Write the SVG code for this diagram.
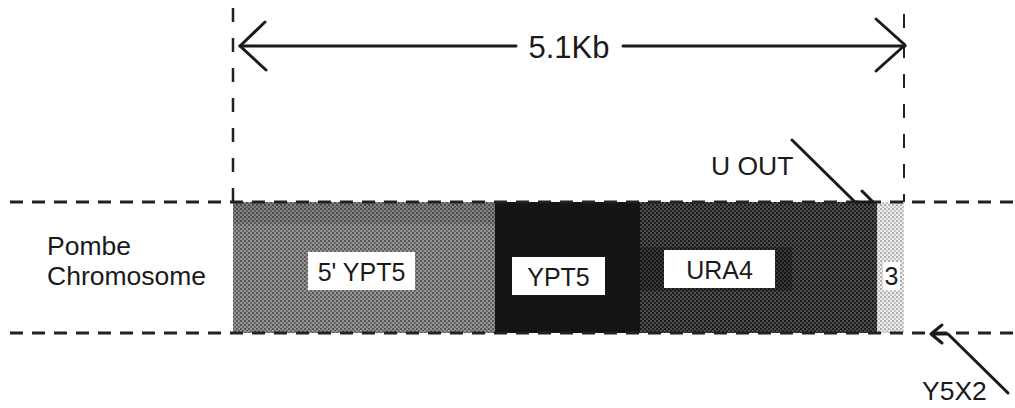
<svg xmlns="http://www.w3.org/2000/svg" width="1015" height="408" viewBox="0 0 1015 408">
  <defs>
    <pattern id="pGray" width="4" height="4" patternUnits="userSpaceOnUse">
      <rect width="4" height="4" fill="#959595"/>
      <rect x="0" y="0" width="2" height="2" fill="#555"/>
      <rect x="2" y="2" width="2" height="2" fill="#666"/>
    </pattern>
    <pattern id="pDark" width="4" height="4" patternUnits="userSpaceOnUse">
      <rect width="4" height="4" fill="#4f4f4f"/>
      <rect x="0" y="0" width="2" height="2" fill="#1a1a1a"/>
      <rect x="2" y="2" width="2" height="2" fill="#222"/>
    </pattern>
    <pattern id="pLight" width="4" height="4" patternUnits="userSpaceOnUse">
      <rect width="4" height="4" fill="#ececec"/>
      <rect x="0" y="0" width="2" height="2" fill="#b0b0b0"/>
      <rect x="2" y="2" width="2" height="2" fill="#c4c4c4"/>
    </pattern>
  </defs>
  <style>
    text { font-family: "Liberation Sans", Arial, sans-serif; fill: #1a1a1a; }
    .lbl { font-size: 25px; }
    .out { font-size: 26.5px; }
    .dim { font-size: 31px; }
    .dash { stroke: #222; stroke-width: 3; fill: none; stroke-dasharray: 13 9; }
    .vdash { stroke: #222; stroke-width: 2.5; fill: none; stroke-dasharray: 14 16; }
    .ln { stroke: #1a1a1a; stroke-width: 3; fill: none; stroke-linecap: round; stroke-linejoin: round; }
    .box { fill: #fff; }
  </style>
  <rect width="1015" height="408" fill="#fff"/>

  <g id="chromosome-label">
    <text class="out" x="47" y="255">Pombe</text>
    <text class="out" x="47" y="285">Chromosome</text>
  </g>

  <g id="seg-5ypt5">
    <rect x="233" y="202" width="262" height="131" fill="url(#pGray)"/>
    <rect x="233" y="202" width="262" height="22" fill="#000" opacity="0.12"/>
    <rect class="box" x="308" y="252" width="107" height="38"/>
    <text class="lbl" x="361.5" y="281" text-anchor="middle">5' YPT5</text>
  </g>

  <g id="seg-ypt5">
    <rect x="495" y="202" width="145" height="131" fill="#141414"/>
    <rect class="box" x="512" y="257" width="93" height="38"/>
    <text class="lbl" x="558.5" y="286" text-anchor="middle">YPT5</text>
  </g>

  <g id="seg-ura4">
    <rect x="640" y="202" width="237" height="131" fill="url(#pDark)"/>
    <rect x="640" y="247" width="152" height="44" fill="#111" opacity="0.4"/>
    <rect class="box" x="664" y="250" width="111" height="38"/>
    <text class="lbl" x="719.5" y="279" text-anchor="middle">URA4</text>
  </g>

  <g id="seg-3">
    <rect x="877" y="202" width="27" height="131" fill="url(#pLight)"/>
    <rect class="box" x="883" y="262" width="17" height="28"/>
    <text class="lbl" x="891.5" y="285" text-anchor="middle">3</text>
  </g>

  <g id="label-uout">
    <text class="out" x="711" y="175">U OUT</text>
  </g>
  <g id="label-y5x2">
    <text class="out" x="922" y="400">Y5X2</text>
  </g>
  <g id="label-size">
    <text class="dim" x="569" y="58" text-anchor="middle">5.1Kb</text>
  </g>

  <g id="connectors">
    <line class="dash" x1="10" y1="202" x2="1015" y2="202"/>
    <line class="dash" x1="10" y1="333" x2="1015" y2="333"/>
    <line class="vdash" x1="233" y1="8" x2="233" y2="202"/>
    <line class="vdash" x1="904" y1="14" x2="904" y2="202" style="stroke-width:2"/>
    <line class="ln" x1="240" y1="46" x2="516" y2="46"/>
    <line class="ln" x1="623" y1="46" x2="905" y2="46"/>
    <polyline class="ln" points="265,22 240,46 266,70"/>
    <polyline class="ln" points="876,19 905,45 876,71"/>
    <path class="ln" d="M792,140 L855,202 L873,202 M862,191 L873,202"/>
    <path class="ln" d="M1008,393 L948,334 L931,334 M942,325 L931,334 L942,343"/>
  </g>
</svg>
